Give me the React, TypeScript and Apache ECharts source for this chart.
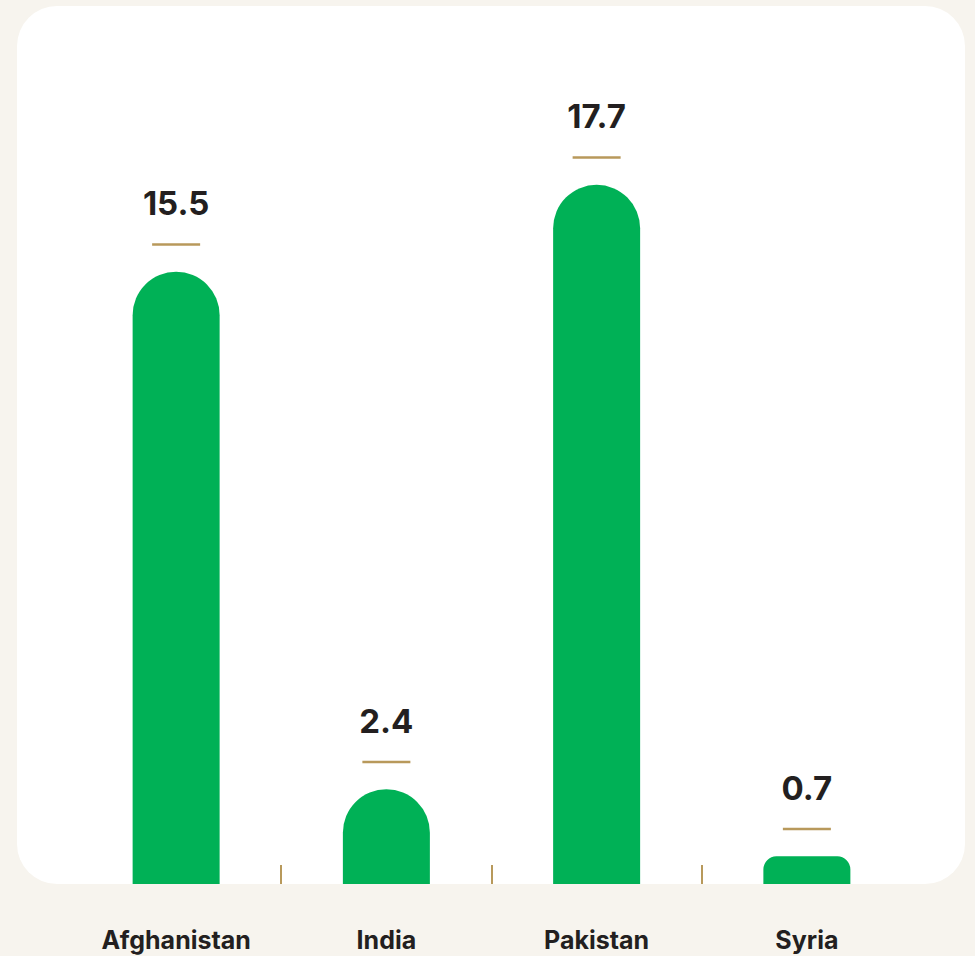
import React, { useEffect, useRef } from "react";
import * as echarts from "echarts";

const categories = ["Afghanistan", "India", "Pakistan", "Syria"];
const values = [15.5, 2.4, 17.7, 0.7];

const GOLD = "#b8995b";
const GREEN = "#00b156";
const TEXT = "#231f20";
const FONT = "Inter";

export default function App() {
  const ref = useRef<HTMLDivElement>(null);
  useEffect(() => {
    document.body.style.margin = "0";
    const chart = echarts.init(ref.current!, null, { renderer: "svg" });
    const option: any = {
      animation: false,
      backgroundColor: "#f7f4ee",
      grid: { left: 71, right: 63, top: 94, bottom: 72 },
      xAxis: {
        type: "category",
        data: categories,
        axisLine: { show: false },
        axisTick: { show: false },
        axisLabel: {
          margin: 43,
          fontFamily: FONT,
          fontWeight: "bold",
          fontSize: 25,
          color: TEXT,
        },
      },
      yAxis: {
        type: "value",
        min: 0,
        max: 20,
        show: false,
        splitLine: { show: false },
      },
      series: [
        {
          type: "bar",
          barWidth: 87,
          data: values.map((v) => ({
            value: v,
            itemStyle: {
              color: GREEN,
              borderRadius: v < 2 ? [13, 13, 0, 0] : [43.5, 43.5, 0, 0],
            },
          })),
          label: {
            show: true,
            position: "top",
            distance: 26,
            formatter: (p: any) => `{v|${p.value}}\n{l|}`,
            rich: {
              v: {
                fontFamily: FONT,
                fontWeight: "bold",
                fontSize: 33,
                lineHeight: 80,
                color: TEXT,
                align: "center",
              },
              l: {
                width: 48,
                height: 2.5,
                lineHeight: 2.5,
                backgroundColor: GOLD,
                align: "center",
              },
            },
          },
        },
      ],
    };
    chart.setOption(option);
    const graphics: any[] = [
      {
        type: "rect",
        z: -10,
        silent: true,
        shape: { x: 17, y: 6, width: 948, height: 878, r: [40, 40, 40, 40] },
        style: { fill: "#ffffff" },
      },
    ];
    for (let i = 0; i < categories.length - 1; i++) {
      const a = chart.convertToPixel({ xAxisIndex: 0 }, categories[i]) as number;
      const b = chart.convertToPixel({ xAxisIndex: 0 }, categories[i + 1]) as number;
      const x = Math.round((a + b) / 2);
      const yb = chart.convertToPixel({ yAxisIndex: 0 }, 0) as number;
      graphics.push({
        type: "line",
        silent: true,
        shape: { x1: x, y1: yb - 19, x2: x, y2: yb },
        style: { stroke: GOLD, lineWidth: 2 },
      });
    }
    chart.setOption({ graphic: graphics });
    return () => chart.dispose();
  }, []);
  return <div ref={ref} style={{ width: 975, height: 956 }} />;
}
